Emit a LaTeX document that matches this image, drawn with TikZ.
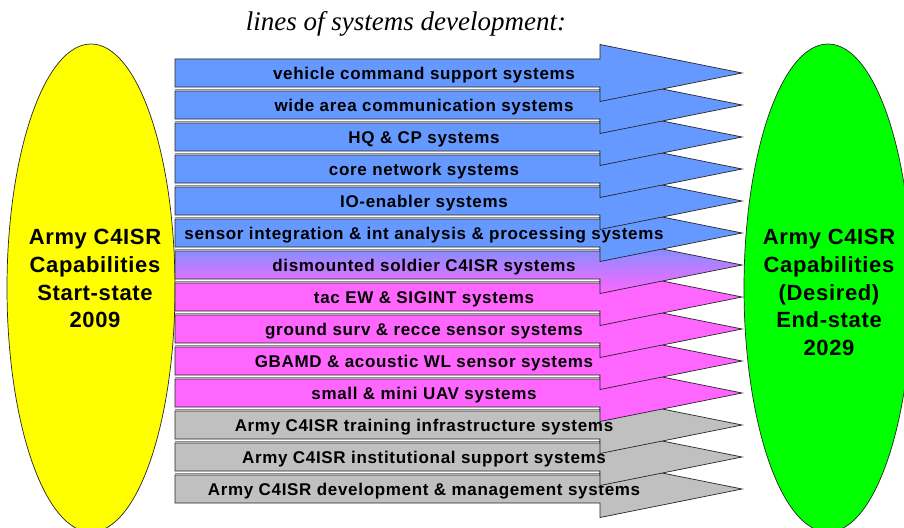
\documentclass[tikz,border=0pt]{standalone}
\usepackage{fontspec}
\setmainfont{Liberation Serif}
\newfontfamily\lsans[LetterSpace=3]{Liberation Sans}
\newfontfamily\lsanssp[LetterSpace=4]{Liberation Sans}
\usetikzlibrary{shapes.geometric}
\definecolor{cblue}{RGB}{102,153,255}
\definecolor{cpink}{RGB}{255,102,255}
\definecolor{cgray}{RGB}{192,192,192}
\definecolor{cyel}{RGB}{255,255,0}
\definecolor{cgreen}{RGB}{0,255,0}
\begin{document}
\begin{tikzpicture}[x=1pt,y=-1pt,
  arrowshape/.style={draw=black!85, line width=0.7pt, line join=miter},
  fillblue/.style={fill=cblue},
  fillpink/.style={fill=cpink},
  fillgray/.style={fill=cgray},
  fillgrad/.style={top color=cblue, bottom color=cpink},
  gapline/.style={draw=black!45, line width=1.2pt},
  arrowlabel/.style={font=\lsanssp\bfseries\fontsize{17}{19}\selectfont, inner sep=0pt, anchor=base},
  capsule/.style={ellipse, draw=black!85, line width=0.7pt, minimum width=168pt, minimum height=488pt, inner sep=0pt},
  capstext/.style={font=\lsans\bfseries\fontsize{22}{27.8}\selectfont, align=center, inner sep=0pt, anchor=north}]
\useasboundingbox (0,0) rectangle (904,527);
\clip (0,0) rectangle (904,527);
% ellipses
\node[capsule, fill=cyel] (start) at (91,288) {};
\node[capsule, fill=cgreen] (end) at (828,288) {};
\node[capstext] (starttxt) at (95,229) {Army C4ISR\\Capabilities\\Start-state\\2009};
\node[capstext] (endtxt) at (829,229) {Army C4ISR\\Capabilities\\(Desired)\\End-state\\2029};
% title
\node[font=\itshape\fontsize{27}{30}\selectfont, inner sep=0pt, anchor=base] (title) at (406,31) {lines of systems development:};
% arrows, bottom to top
\foreach \i/\sty/\txt in {
  14/fillgray/{Army C4ISR development \& management systems},
  13/fillgray/{Army C4ISR institutional support systems},
  12/fillgray/{Army C4ISR training infrastructure systems},
  11/fillpink/{small \& mini UAV systems},
  10/fillpink/{GBAMD \& acoustic WL sensor systems},
  9/fillpink/{ground surv \& recce sensor systems},
  8/fillpink/{tac EW \& SIGINT systems},
  7/fillgrad/{dismounted soldier C4ISR systems},
  6/fillblue/{sensor integration \& int analysis \& processing systems},
  5/fillblue/{IO-enabler systems},
  4/fillblue/{core network systems},
  3/fillblue/{HQ \& CP systems},
  2/fillblue/{wide area communication systems},
  1/fillblue/{vehicle command support systems}}{
  \pgfmathsetmacro{\c}{73+32*(\i-1)}
  \ifnum\i>1
    \draw[gapline] (175,\c-15.2) -- (600,\c-15.2);
  \fi
  \path[arrowshape, \sty] (175,\c-14) -- (600,\c-14) -- (600,\c-28.5) -- (742,\c)
     -- (600,\c+28.5) -- (600,\c+14) -- (175,\c+14) -- cycle;
  \node[arrowlabel] (t\i) at (424,\c+6.1) {\txt};
}
\end{tikzpicture}
\end{document}
